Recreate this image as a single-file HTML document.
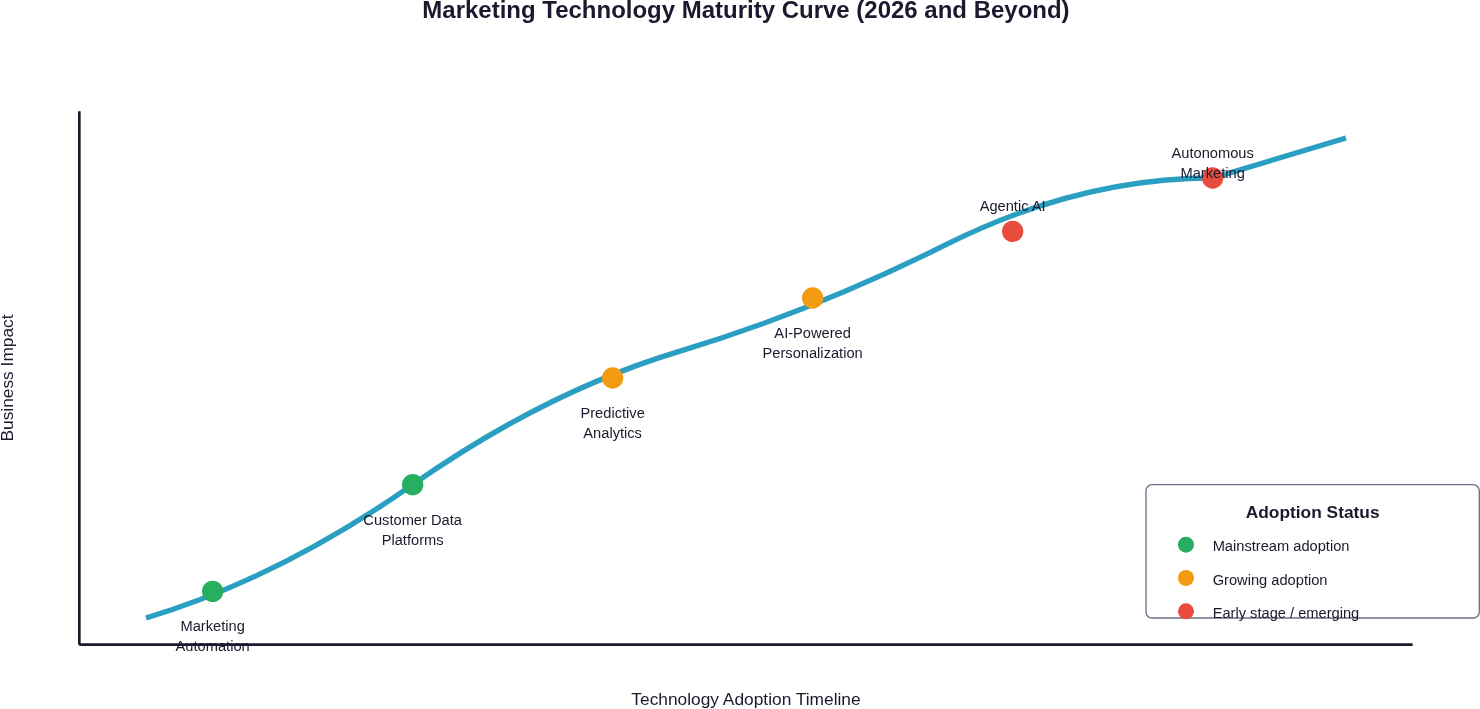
<!DOCTYPE html>
<html lang="en">
<head>
<meta charset="utf-8">
<title>Marketing Technology Maturity Curve</title>
<style>
  html, body { margin: 0; padding: 0; background: #ffffff; overflow: hidden; }
  svg { display: block; will-change: transform; transform: translateZ(0); }
  text { font-family: "Liberation Sans", Arial, Helvetica, sans-serif; }
</style>
</head>
<body>
<svg width="1480" height="709" viewBox="0 0 1480 709">
  <rect x="0" y="0" width="1480" height="709" fill="#ffffff"/>
  <g transform="translate(12.65,-22) scale(1.333333)">
    <!-- Title -->
    <text x="550" y="30" text-anchor="middle" font-size="18" font-weight="bold" fill="#1a1a2e">Marketing Technology Maturity Curve (2026 and Beyond)</text>

    <!-- Curve -->
    <path id="curve" d="M 100 480 Q 200 450 300 380 T 500 280 T 700 200 T 900 150 L 1000 120" fill="none" stroke="#2a9fc1" stroke-width="4"/>

    <!-- Axes -->
    <line x1="50" y1="100" x2="50" y2="500" stroke="#1a1a2e" stroke-width="2"/>
    <line x1="50" y1="500" x2="1050" y2="500" stroke="#1a1a2e" stroke-width="2"/>

    <!-- Axis labels -->
    <text x="550" y="545" text-anchor="middle" font-size="13" fill="#1a1a2e">Technology Adoption Timeline</text>
    <text transform="translate(0,300) rotate(-90)" text-anchor="middle" font-size="13" fill="#1a1a2e">Business Impact</text>

    <!-- Points -->
    <circle cx="150" cy="460" r="8" fill="#27ae60"/>
    <circle cx="300" cy="380" r="8" fill="#27ae60"/>
    <circle cx="450" cy="300" r="8" fill="#f39c12"/>
    <circle cx="600" cy="240" r="8" fill="#f39c12"/>
    <circle cx="750" cy="190" r="8" fill="#e74c3c"/>
    <circle cx="900" cy="150" r="8" fill="#e74c3c"/>

    <!-- Point labels -->
    <g font-size="11" fill="#1a1a2e" text-anchor="middle">
      <text x="150" y="490">Marketing</text>
      <text x="150" y="505">Automation</text>
      <text x="300" y="410">Customer Data</text>
      <text x="300" y="425">Platforms</text>
      <text x="450" y="330">Predictive</text>
      <text x="450" y="345">Analytics</text>
      <text x="600" y="270">AI-Powered</text>
      <text x="600" y="285">Personalization</text>
      <text x="750" y="175">Agentic AI</text>
      <text x="900" y="135">Autonomous</text>
      <text x="900" y="150">Marketing</text>
    </g>

    <!-- Legend -->
    <rect x="850" y="380" width="250" height="100" rx="4.5" ry="4.5" fill="#ffffff" stroke="#6b708c" stroke-width="1"/>
    <text x="975" y="405" text-anchor="middle" font-size="13" font-weight="bold" fill="#1a1a2e">Adoption Status</text>
    <circle cx="880" cy="425" r="6" fill="#27ae60"/>
    <text x="900" y="430" font-size="11" fill="#1a1a2e">Mainstream adoption</text>
    <circle cx="880" cy="450" r="6" fill="#f39c12"/>
    <text x="900" y="455" font-size="11" fill="#1a1a2e">Growing adoption</text>
    <circle cx="880" cy="475" r="6" fill="#e74c3c"/>
    <text x="900" y="480" font-size="11" fill="#1a1a2e">Early stage / emerging</text>
  </g>
</svg>
</body>
</html>
